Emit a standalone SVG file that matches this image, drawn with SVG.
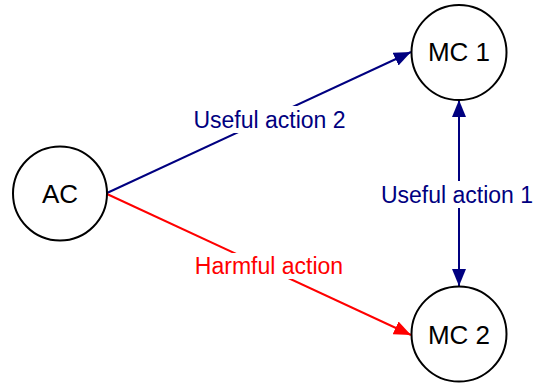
<svg xmlns="http://www.w3.org/2000/svg" width="535" height="385" viewBox="0 0 535 385">
<defs>
<style>
.node circle{fill:#fff;stroke:#000;stroke-width:2}
.node text{font-family:"Liberation Sans",Arial,sans-serif;font-size:26px;fill:#000;text-anchor:middle}
.lbl{font-family:"Liberation Sans",Arial,sans-serif;font-size:23px;text-anchor:middle}
.bg{fill:#fff}
.blue{stroke:#000080;stroke-width:2;fill:none}
.red{stroke:#ff0000;stroke-width:2;fill:none}
</style>
<marker id="ab" markerUnits="userSpaceOnUse" markerWidth="18" markerHeight="14" refX="17" refY="7" orient="auto-start-reverse" viewBox="0 0 18 14"><path d="M0,0 L17,7 L0,14 z" fill="#000080"/></marker>
<marker id="ar" markerUnits="userSpaceOnUse" markerWidth="18" markerHeight="14" refX="17" refY="7" orient="auto" viewBox="0 0 18 14"><path d="M0,0 L17,7 L0,14 z" fill="#ff0000"/></marker>
</defs>
<rect width="535" height="385" fill="#fff"/>
<g id="connectors">
<line class="blue" x1="107" y1="193" x2="411" y2="52" marker-end="url(#ab)"/>
<line class="red" x1="107" y1="194" x2="411" y2="335" marker-end="url(#ar)"/>
<line class="blue" x1="459" y1="100" x2="459" y2="286" marker-start="url(#ab)" marker-end="url(#ab)"/>
<rect class="bg" x="190" y="106" width="159" height="27"/>
<text class="lbl" x="269.5" y="128" fill="#000080">Useful action 2</text>
<rect class="bg" x="380" y="181" width="154" height="27"/>
<text class="lbl" x="457" y="203" fill="#000080">Useful action 1</text>
<rect class="bg" x="192" y="253" width="154" height="26"/>
<text class="lbl" x="269" y="274" fill="#ff0000">Harmful action</text>
</g>
<g id="AC" class="node"><circle cx="60" cy="193.5" r="47"/><text x="60" y="203">AC</text></g>
<g id="MC1" class="node"><circle cx="459" cy="52.5" r="47.5"/><text x="459" y="61">MC 1</text></g>
<g id="MC2" class="node"><circle cx="459" cy="334" r="47.5"/><text x="459" y="344">MC 2</text></g>
</svg>
